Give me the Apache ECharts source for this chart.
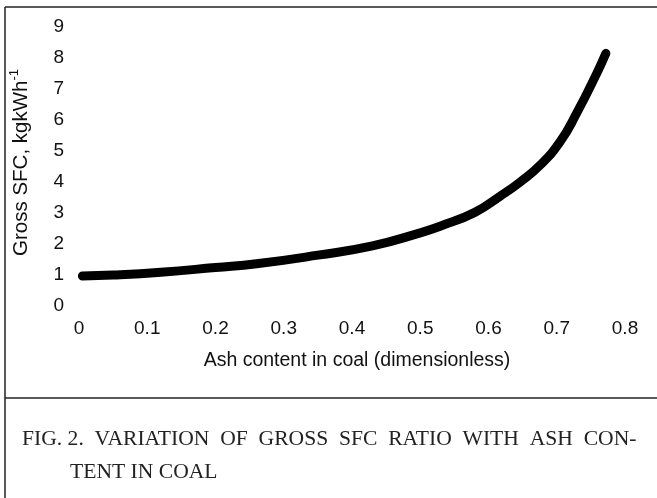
<!DOCTYPE html>
<html>
<head>
<meta charset="utf-8">
<script src="https://cdn.jsdelivr.net/npm/echarts@6/dist/echarts.min.js"></script>
<style>
html,body{margin:0;padding:0;background:#fff;}
#chart{width:657px;height:498px;}
</style>
</head>
<body>
<div id="chart"></div>
<script>
// Data
var ashContent = [0.005, 0.05, 0.12, 0.2, 0.26, 0.35, 0.43, 0.5, 0.53, 0.58, 0.6175, 0.647, 0.676, 0.705, 0.729, 0.759, 0.772];
var grossSFC   = [0.97, 1.0, 1.09, 1.24, 1.36, 1.64, 1.94, 2.36, 2.58, 3.02, 3.55, 4.01, 4.55, 5.3, 6.21, 7.52, 8.15];
var xTicks = ['0', '0.1', '0.2', '0.3', '0.4', '0.5', '0.6', '0.7', '0.8'];
var yTicks = ['0', '1', '2', '3', '4', '5', '6', '7', '8', '9'];
var xTitle = 'Ash content in coal (dimensionless)';
var yTitle = 'Gross SFC, kgkWh';
var yTitleSup = '-1';
var captionLine1 = 'FIG. 2.  VARIATION  OF  GROSS  SFC  RATIO  WITH  ASH  CON-';
var captionLine2 = 'TENT IN COAL';

var chart = echarts.init(document.getElementById('chart'), null, {renderer: 'canvas'});
var sans = 'Liberation Sans, Arial, sans-serif';
var serif = 'Liberation Serif, Times New Roman, serif';

var points = ashContent.map(function (x, i) { return [x, grossSFC[i]]; });

chart.setOption({
  animation: false,
  backgroundColor: '#ffffff',
  grid: {left: 77, right: 32, top: 27, bottom: 192, containLabel: false},
  xAxis: {
    type: 'value',
    min: Number(xTicks[0]),
    max: Number(xTicks[xTicks.length - 1]),
    interval: 0.1,
    axisLine: {show: false},
    axisTick: {show: false},
    splitLine: {show: false},
    axisLabel: {
      margin: 13,
      fontFamily: sans, fontSize: 19, color: '#111',
      formatter: function (v) { return xTicks[Math.round(v * 10)]; }
    },
    name: xTitle,
    nameLocation: 'middle',
    nameGap: 45,
    nameTextStyle: {fontFamily: sans, fontSize: 19.5, color: '#111', padding: [0, 0, 0, 10]}
  },
  yAxis: {
    type: 'value',
    min: Number(yTicks[0]),
    max: Number(yTicks[yTicks.length - 1]),
    interval: 1,
    axisLine: {show: false},
    axisTick: {show: false},
    splitLine: {show: false},
    axisLabel: {
      margin: 15,
      fontFamily: sans, fontSize: 19, color: '#111',
      formatter: function (v) { return yTicks[Math.round(v)]; }
    },
    name: '{a|' + yTitle + '}{s|' + yTitleSup + '}',
    nameLocation: 'middle',
    nameGap: 47,
    nameTextStyle: {
      fontFamily: sans, fontSize: 20, color: '#111',
      padding: [0, 0, 0, 8],
      rich: {
        a: {fontFamily: sans, fontSize: 20.5, color: '#111', lineHeight: 24, verticalAlign: 'bottom'},
        s: {fontFamily: sans, fontSize: 13, color: '#111', lineHeight: 24, verticalAlign: 'top'}
      }
    }
  },
  series: [{
    type: 'line',
    data: points,
    smooth: 0.5,
    showSymbol: false,
    symbol: 'none',
    lineStyle: {color: '#000', width: 9, cap: 'round', join: 'round'}
  }],
  graphic: [
    {type: 'line', shape: {x1: 5, y1: 7, x2: 657, y2: 7}, style: {stroke: '#222', lineWidth: 1.5}},
    {type: 'line', shape: {x1: 5, y1: 7, x2: 5, y2: 498}, style: {stroke: '#222', lineWidth: 1.5}},
    {type: 'line', shape: {x1: 5, y1: 398, x2: 657, y2: 398}, style: {stroke: '#222', lineWidth: 1.5}},
    {type: 'text', left: 22, top: 428, style: {text: captionLine1, font: '21.6px ' + serif, fill: '#222'}},
    {type: 'text', left: 70, top: 461, style: {text: captionLine2, font: '21.6px ' + serif, fill: '#222'}}
  ]
});
</script>
</body>
</html>
